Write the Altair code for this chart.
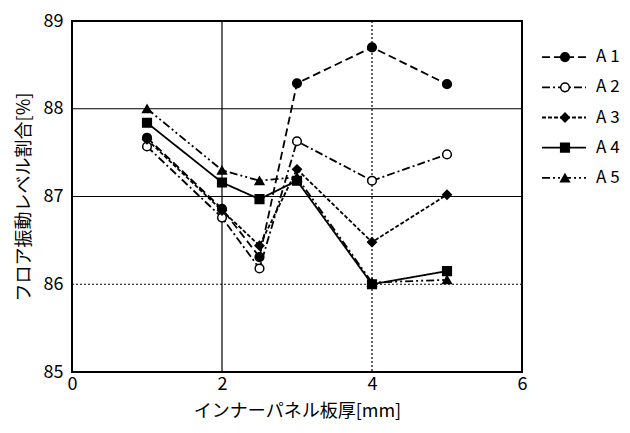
import altair as alt
import pandas as pd

# ---- data ----
thickness = [1, 2, 2.5, 3, 4, 5]
series_names = ["A 1", "A 2", "A 3", "A 4", "A 5"]
a1 = [87.67, 86.86, 86.31, 88.29, 88.70, 88.28]
a2 = [87.57, 86.76, 86.18, 87.63, 87.18, 87.48]
a3 = [87.65, 86.84, 86.44, 87.31, 86.48, 87.02]
a4 = [87.84, 87.16, 86.97, 87.18, 86.00, 86.15]
a5 = [88.00, 87.30, 87.18, 87.22, 86.02, 86.05]
x_ticks = [0, 2, 4, 6]
y_ticks = [85, 86, 87, 88, 89]
grid_x_solid = [2]
grid_x_dotted = [4]
grid_y_solid = [87, 88]
grid_y_dotted = [86]

rows = []
for name, vals in zip(series_names, [a1, a2, a3, a4, a5]):
    for t, v in zip(thickness, vals):
        rows.append({"series": name, "thickness": t, "ratio": v})
df = pd.DataFrame(rows)
legend_df = pd.DataFrame({"series": series_names})

FONT = "Noto Sans CJK JP"
shapes = ["circle", "circle", "diamond", "square", "triangle-up"]
fills = ["black", "white", "black", "black", "black"]
dashes = [[8, 4], [8, 3, 2, 3], [4, 2], [1, 0], [8, 3, 2, 3, 2, 3]]

dash_scale = alt.Scale(domain=series_names, range=dashes)
shape_scale = alt.Scale(domain=series_names, range=shapes)
fill_scale = alt.Scale(domain=series_names, range=fills)

xs = alt.Scale(domain=[0, 6], nice=False)
ys = alt.Scale(domain=[85, 89], nice=False, zero=False)

x_axis = alt.Axis(values=x_ticks, grid=False, ticks=False, domain=False,
                  labelFlush=False,
                  labelFont=FONT, labelFontSize=18, labelColor="black",
                  labelPadding=3, title="インナーパネル板厚[mm]",
                  titleFont=FONT, titleFontSize=18, titleFontWeight="normal",
                  titleColor="black", titlePadding=9)
y_axis = alt.Axis(values=y_ticks, grid=False, ticks=False, domain=False,
                  labelFlush=False,
                  labelFont=FONT, labelFontSize=18, labelColor="black",
                  labelPadding=9, title="フロア振動レベル割合[%]",
                  titleFont=FONT, titleFontSize=18, titleFontWeight="normal",
                  titleColor="black", titlePadding=10)

def vgrid(vals, dash):
    return alt.Chart(pd.DataFrame({"v": vals})).mark_rule(
        color="black", strokeWidth=1.2, strokeDash=dash
    ).encode(x=alt.X("v:Q", scale=xs, axis=x_axis))

def hgrid(vals, dash):
    return alt.Chart(pd.DataFrame({"v": vals})).mark_rule(
        color="black", strokeWidth=1.2, strokeDash=dash
    ).encode(y=alt.Y("v:Q", scale=ys, axis=y_axis))

base = alt.Chart(df)
lines = base.mark_line(color="black", strokeWidth=1.8).encode(
    x=alt.X("thickness:Q", scale=xs, axis=x_axis),
    y=alt.Y("ratio:Q", scale=ys, axis=y_axis),
    detail="series:N",
    strokeDash=alt.StrokeDash("series:N", scale=dash_scale, legend=None),
)
points = base.mark_point(size=75, stroke="black", strokeWidth=1.5, opacity=1).encode(
    x=alt.X("thickness:Q", scale=xs, axis=x_axis),
    y=alt.Y("ratio:Q", scale=ys, axis=y_axis),
    shape=alt.Shape("series:N", scale=shape_scale, legend=None),
    fill=alt.Fill("series:N", scale=fill_scale, legend=None),
)

main = alt.layer(
    vgrid(grid_x_solid, [1, 0]), vgrid(grid_x_dotted, [2, 2]),
    hgrid(grid_y_solid, [1, 0]), hgrid(grid_y_dotted, [2, 2]),
    lines, points,
)

ly = alt.Y("series:N", scale=alt.Scale(domain=series_names, range=[21, 172], padding=0), axis=None)
lbase = alt.Chart(legend_df)
leg_rule = lbase.mark_rule(color="black", strokeWidth=1.8).encode(
    x=alt.value(470), x2=alt.value(514), y=ly,
    strokeDash=alt.StrokeDash("series:N", scale=dash_scale, legend=None),
)
leg_pt = lbase.mark_point(size=75, stroke="black", strokeWidth=1.5, opacity=1).encode(
    x=alt.value(493), y=ly,
    shape=alt.Shape("series:N", scale=shape_scale, legend=None),
    fill=alt.Fill("series:N", scale=fill_scale, legend=None),
)
leg_txt = lbase.mark_text(align="left", baseline="middle", font=FONT, fontSize=17, color="black").encode(
    x=alt.value(524), y=ly, text="series:N",
)
legend = alt.layer(leg_rule, leg_pt, leg_txt)

chart = alt.layer(main, legend).resolve_scale(y="independent").properties(
    width=450, height=351,
    autosize=alt.AutoSizeParams(type="none"),
    padding={"left": 64, "top": 13, "right": 100, "bottom": 50},
).configure(
    background="white",
    view=alt.ViewConfig(stroke="black", strokeWidth=2),
)

chart.save("out.html", embed_options={"renderer": "svg", "actions": False})
